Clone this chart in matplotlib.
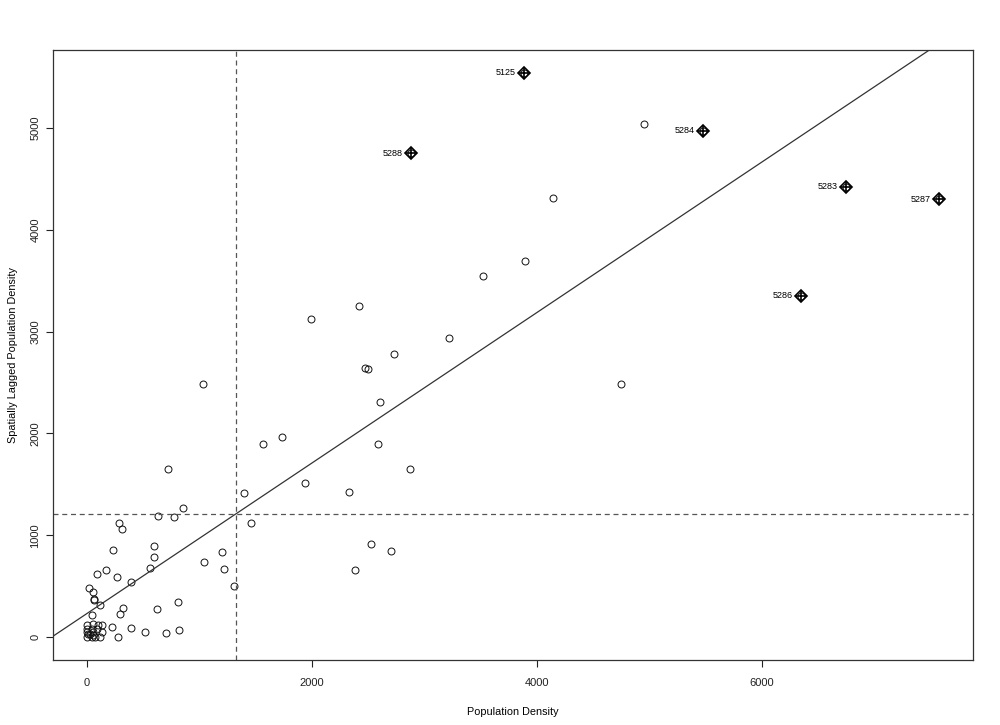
import numpy as np
import matplotlib
matplotlib.use("Agg")
import matplotlib.pyplot as plt

plt.rcParams['font.family'] = ['Liberation Sans', 'DejaVu Sans']

# population density (x) and spatially lagged density (y)
dens = [4951, 4139, 3523, 3890, 3215, 2418, 1988, 2726, 2471, 2500,
        2607, 4747, 1031, 1564, 1733, 2587, 2874, 1935, 1396, 2326,
        1458, 2521, 2705, 2380, 1197, 1215, 1307, 1040, 717, 853,
        631, 773, 284, 311, 228, 596, 596, 560, 169, 267,
        388, 86, 18, 51, 60, 62, 113, 44, 320, 293,
        622, 809, 222, 391, 516, 702, 813, 273,
        0, 50, 100, 136, 0, 42, 86, 131, 0, 27, 56, 0, 42, 116, 51, 71, 9,
        3887, 5473, 2880, 6744, 7573, 6349]
lagged = [5034, 4305, 3547, 3695, 2939, 3248, 3120, 2781, 2640, 2637,
          2308, 2490, 2483, 1895, 1963, 1901, 1652, 1514, 1419, 1429,
          1123, 913, 847, 657, 840, 670, 505, 739, 1655, 1271,
          1192, 1182, 1123, 1064, 857, 897, 788, 680, 660, 591,
          545, 624, 483, 446, 374, 365, 318, 220, 289, 230,
          276, 345, 99, 92, 49, 39, 69, 5,
          118, 135, 118, 118, 86, 86, 86, 52, 52, 36, 52, 3, 0, 0, 20, 5, 30,
          5540, 4969, 4749, 4421, 4299, 3353]

# influential observations
infl_id = ["5125", "5284", "5288", "5283", "5287", "5286"]
infl_x = [3887, 5473, 2880, 6744, 7573, 6349]
infl_y = [5540, 4969, 4749, 4421, 4299, 3353]

mean_x = 1324
mean_y = 1212
slope = 0.738

fig = plt.figure(figsize=(10, 7.25), dpi=100)
ax = fig.add_axes([0.053, 0.0897, 0.92, 0.8414])

ax.plot(dens, lagged, 'o', mfc='none', mec='#111111', ms=5, mew=0.7)
ax.axline((mean_x, mean_y), slope=slope, color='#333333', lw=0.9)
ax.axvline(mean_x, color='#555555', ls=(0, (4, 3)), lw=0.9)
ax.axhline(mean_y, color='#555555', ls=(0, (4, 3)), lw=0.9)

# diamond-plus markers for influential points
ax.plot(infl_x, infl_y, 'D', mfc='none', mec='black', ms=6, mew=1.2)
ax.plot(infl_x, infl_y, '+', color='black', ms=7, mew=1.2)
for lab, xx, yy in zip(infl_id, infl_x, infl_y):
    ax.annotate(lab, (xx, yy), xytext=(-6, 0), textcoords='offset points',
                ha='right', va='center', fontsize=6.5)

rx = max(dens) - min(dens)
ry = max(lagged) - min(lagged)
ax.set_xlim(min(dens) - 0.04 * rx, max(dens) + 0.04 * rx)
ax.set_ylim(min(lagged) - 0.04 * ry, max(lagged) + 0.04 * ry)

ax.set_xticks([0, 2000, 4000, 6000])
ax.set_yticks([0, 1000, 2000, 3000, 4000, 5000])
ax.tick_params(direction='out', length=5, width=0.8, labelsize=8,
               colors='#222222')
ax.tick_params(axis='x', pad=8)
ax.tick_params(axis='y', pad=4)
for t in ax.get_yticklabels():
    t.set_rotation(90)
    t.set_va('center')

for s in ax.spines.values():
    s.set_color('#333333')
    s.set_linewidth(0.9)

ax.set_xlabel("Population Density", fontsize=7.8, labelpad=14)
ax.set_ylabel("Spatially Lagged Population Density", fontsize=7.8, labelpad=9)

fig.savefig("out.png", dpi=100, facecolor='white')
